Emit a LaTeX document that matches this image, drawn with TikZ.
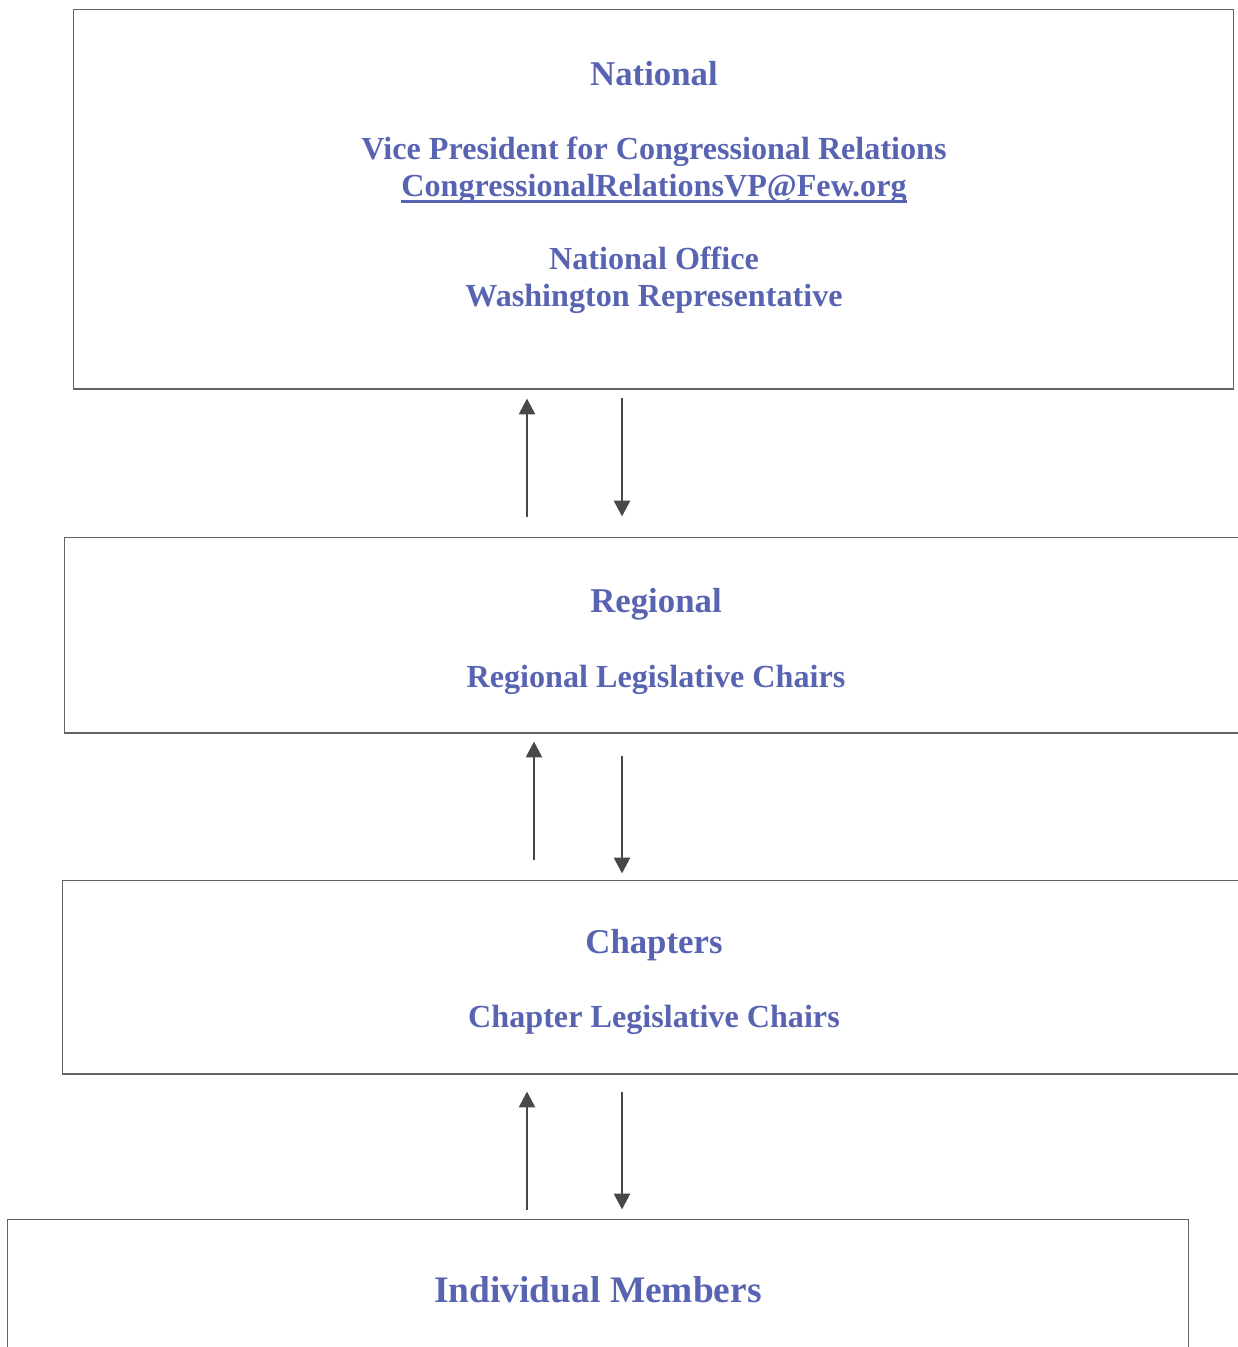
\documentclass[tikz,border=0pt]{standalone}
\usepackage{fontspec}
\setmainfont{Liberation Serif}
\usetikzlibrary{arrows.meta}
\definecolor{tiertext}{RGB}{88,100,178}
\definecolor{tierline}{RGB}{100,100,100}
\definecolor{flowline}{RGB}{72,72,72}
\newsavebox{\mailbox}
\newcommand{\mailul}[1]{\sbox{\mailbox}{#1}\rlap{\raisebox{-3.4pt}{\rule{\wd\mailbox}{1.7pt}}}\usebox{\mailbox}}

\begin{document}
\begin{tikzpicture}[x=0.02cm,y=-0.02cm,
  tier/.style={draw=tierline,line width=0.6pt,rectangle,inner sep=0pt},
  head/.style={text=tiertext,font=\fontsize{19.8}{22}\selectfont\bfseries},
  line/.style={text=tiertext,font=\fontsize{18.3}{21}\selectfont\bfseries},
  flow/.style={-{Triangle[length=9pt,width=9pt]},flowline,line width=1.6pt}
]
  \useasboundingbox (0,0) rectangle (1238,1347);

  % the four levels
  \node[tier,minimum width=23.22cm,minimum height=7.6cm] (nat) at (653.5,199) {};
  \node[tier,minimum width=23.72cm,minimum height=3.92cm] (reg) at (657,635) {};
  \node[tier,minimum width=23.76cm,minimum height=3.88cm] (chap) at (656,977) {};
  \node[tier,minimum width=23.64cm,minimum height=2.82cm] (memb) at (598,1289.5) {};

  \node[head] (natT) at (654,74) {National};
  \node[line] (natVP) at (654,152) {Vice President for Congressional Relations};
  \node[line] (natMail) at (654,189) {\mailul{CongressionalRelationsVP@Few.org}};
  \node[line] (natOff) at (654,258) {National Office};
  \node[line] (natRep) at (654,299) {Washington Representative};

  \node[head] (regT) at (656,604) {Regional};
  \node[line] (regC) at (656,680) {Regional Legislative Chairs};

  \node[head] (chapT) at (654,945) {Chapters};
  \node[line] (chapC) at (654,1020) {Chapter Legislative Chairs};

  \node[head,font=\fontsize{21.3}{24}\selectfont\bfseries] (membT) at (598,1290) {Individual Members};

  % arrows between levels
  \coordinate (upA) at (527,0);
  \coordinate (dnA) at (622,0);
  \coordinate (upB) at (534,0);
  \draw[flow,shorten <=0.4cm,shorten >=0.18cm] (reg.north -| upA) -- (nat.south -| upA);
  \draw[flow,shorten <=0.18cm,shorten >=0.4cm] (nat.south -| dnA) -- (reg.north -| dnA);
  \draw[flow,shorten <=0.4cm,shorten >=0.16cm] (chap.north -| upB) -- (reg.south -| upB);
  \draw[flow,shorten <=0.44cm,shorten >=0.12cm] (reg.south -| dnA) -- (chap.north -| dnA);
  \draw[flow,shorten <=0.18cm,shorten >=0.34cm] (memb.north -| upA) -- (chap.south -| upA);
  \draw[flow,shorten <=0.34cm,shorten >=0.18cm] (chap.south -| dnA) -- (memb.north -| dnA);
\end{tikzpicture}
\end{document}
